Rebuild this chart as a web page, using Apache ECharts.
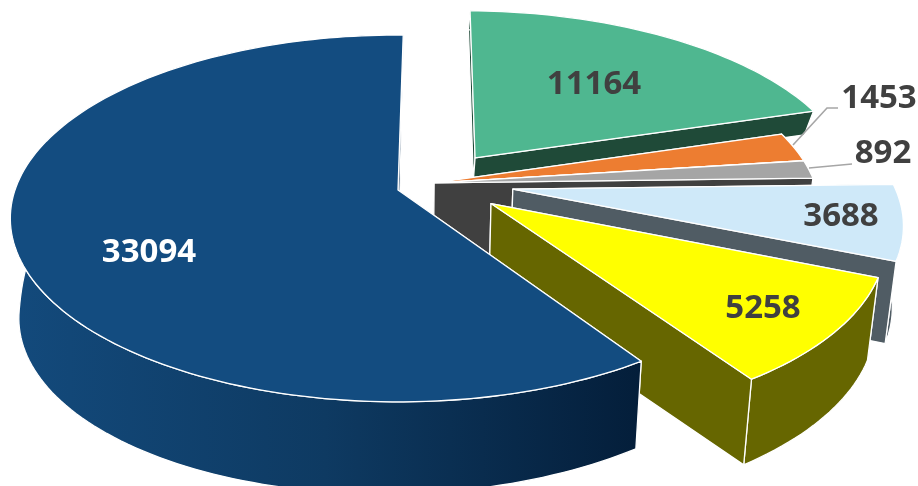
<!DOCTYPE html>
<html><head><meta charset="utf-8">
<style>html,body{margin:0;padding:0;background:#fff}#c{width:918px;height:486px}</style>
<script src="https://cdn.jsdelivr.net/npm/echarts@6/dist/echarts.min.js"></script>
</head><body><div id="c"></div>
<script>
// DATA
const categories = ['A', 'B', 'C', 'D', 'E', 'F'];
const values = [11164, 1453, 892, 3688, 5258, 33094];
const tickLabels = ['11164', '1453', '892', '3688', '5258', '33094'];

// STYLE / LAYOUT
const topColors = ['#4fb790', '#ed7d31', '#a5a5a5', '#cfe9f9', '#ffff00', '#134c80'];
const wallColors = ['#1f4a38', '#404040', '#404040', '#505c64', '#666600', null];
const labelColors = ['#404040', '#404040', '#404040', '#404040', '#404040', '#ffffff'];
const explodeU = [0.207, 0.095, 0.095, 0.3, 0.24, 0];
const explodeV = [-0.185, -0.04, -0.04, -0.005, 0.075, 0];
const labelX = [594, 879, 883, 841, 763, 149];
const labelY = [85, 99, 154, 217, 309, 253];
const leaders = [null, [[793, 145], [827, 108], [838, 108]], [[809, 168], [852, 164]], null, null, null];
const CX = 398, CY = 190, R = 383, RT = 179, P = 0.155, XS = 0.978, ROT = 0.9 * Math.PI / 180, TILT = 0.087;
const depthTable = [[-1.3, 18], [-0.5, 27], [-0.19, 20], [-0.1, 72], [0, 82], [0.1, 92], [1.2, 92]];

function depth(u, v) {
  const t = depthTable;
  let d = t[t.length - 1][1];
  if (v <= t[0][0]) d = t[0][1];
  else for (let i = 1; i < t.length; i++) {
    if (v <= t[i][0]) {
      const f = (v - t[i - 1][0]) / (t[i][0] - t[i - 1][0]);
      d = t[i - 1][1] + f * (t[i][1] - t[i - 1][1]);
      break;
    }
  }
  return d * (1 - TILT * u);
}
function proj(u, v) {
  const w = 1 - P * v;
  return [CX + R * u / w, CY + RT * v / w];
}
function projB(u, v) {
  const p = proj(u, v);
  return [CX + (p[0] - CX) * XS, p[1] + depth(u, v)];
}
const total = values.reduce((a, b) => a + b, 0);

function renderItem(params, api) {
  const i = params.dataIndex;
  const val = api.value(0);
  let before = 0;
  for (let k = 0; k < i; k++) before += values[k];
  const a0 = ROT + before / total * Math.PI * 2, a1 = ROT + (before + val) / total * Math.PI * 2;
  const ex = explodeU[i], ey = explodeV[i];
  const n = Math.max(4, Math.ceil((a1 - a0) * 40));
  const rim = [];
  for (let k = 0; k <= n; k++) {
    const a = a0 + (a1 - a0) * k / n;
    rim.push([Math.sin(a) + ex, -Math.cos(a) + ey]);
  }
  const topRim = rim.map(p => proj(p[0], p[1]));
  const botRim = rim.map(p => projB(p[0], p[1]));
  const A = proj(ex, ey), AB = projB(ex, ey);
  const wallFill = wallColors[i] || {
    type: 'linear', x: 10, y: 0, x2: 640, y2: 0, global: true,
    colorStops: [{offset: 0, color: '#134a7c'}, {offset: 0.5, color: '#0e3a62'}, {offset: 1, color: '#041e3a'}]
  };
  const line = {stroke: '#ffffff', lineWidth: 1.3, lineJoin: 'round'};
  const poly = (pts, fill) => ({type: 'polygon', shape: {points: pts}, style: Object.assign({fill: fill}, line)});
  const kids = [
    poly([A, topRim[0], botRim[0], AB], wallFill),
    poly(topRim.concat(botRim.slice().reverse()), wallFill),
    poly([A, topRim[n], botRim[n], AB], wallFill),
    poly([A].concat(topRim), topColors[i])
  ];
  if (leaders[i]) kids.push({type: 'polyline', shape: {points: leaders[i]}, style: {stroke: '#a6a6a6', lineWidth: 1.6, fill: 'none'}, z2: 5});
  kids.push({type: 'text', z2: 10, style: {
    text: tickLabels[i], x: labelX[i], y: labelY[i], align: 'center', verticalAlign: 'middle',
    fill: labelColors[i], font: 'bold 33px "Open Sans", sans-serif'
  }});
  return {type: 'group', children: kids};
}

const chart = echarts.init(document.getElementById('c'), null, {renderer: 'canvas'});
chart.setOption({
  animation: false,
  backgroundColor: '#ffffff',
  series: [{
    type: 'custom',
    coordinateSystem: 'none',
    renderItem: renderItem,
    clip: false,
    data: values.map((v, i) => ({name: categories[i], value: [v]}))
  }]
});
</script></body></html>
